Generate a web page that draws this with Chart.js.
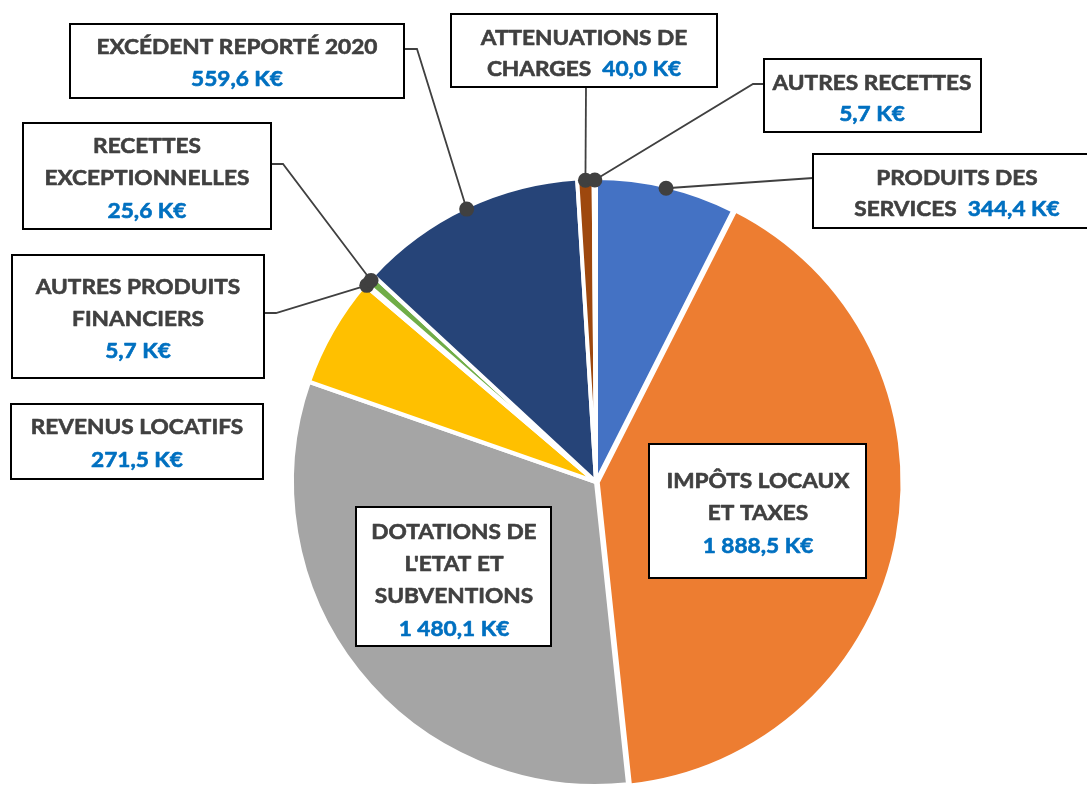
<!DOCTYPE html>
<html><head><meta charset="utf-8">
<script src="https://cdn.jsdelivr.net/npm/chart.js@4.4.1/dist/chart.umd.min.js"></script>
<style>html,body{margin:0;padding:0;background:#fff;overflow:hidden;width:1087px;height:785px}canvas{display:block}</style>
</head><body>
<canvas id="c" width="1087" height="800" style="width:1087px;height:800px"></canvas>
<script>
// ---- DATA ----
const categories = ['PRODUITS DES SERVICES', 'IMPÔTS LOCAUX ET TAXES', "DOTATIONS DE L'ETAT ET SUBVENTIONS", 'REVENUS LOCATIFS', 'AUTRES PRODUITS FINANCIERS', 'RECETTES EXCEPTIONNELLES', 'EXCÉDENT REPORTÉ 2020', 'ATTENUATIONS DE CHARGES', 'AUTRES RECETTES'];
const values = [344.4, 1888.5, 1480.1, 271.5, 5.7, 25.6, 559.6, 40.0, 5.7];
const nameLines = [
  ['PRODUITS DES', 'SERVICES'],
  ['IMPÔTS LOCAUX', 'ET TAXES'],
  ['DOTATIONS DE', "L'ETAT ET", 'SUBVENTIONS'],
  ['REVENUS LOCATIFS'],
  ['AUTRES PRODUITS', 'FINANCIERS'],
  ['RECETTES', 'EXCEPTIONNELLES'],
  ['EXCÉDENT REPORTÉ 2020'],
  ['ATTENUATIONS DE', 'CHARGES'],
  ['AUTRES RECETTES']
];
const valueInline = [true, false, false, false, false, false, false, true, false];
const unit = 'K€';

// ---- STYLE / LAYOUT ----
const colors = ['#4472C4', '#ED7D31', '#A5A5A5', '#FFC000', '#5B9BD5', '#70AD47', '#264478', '#9E480E', '#636363'];
const explode = [0, 7, 0, 0, 0, 0, 0, 0, 0];
const GRAY = '#404040', BLUE = '#0070C0';
const boxes = [
  {x:813, y:154, w:290, h:74, cx:957, ly:[177,208], path:[[813,178]]},
  {x:649, y:444, w:217, h:134, cx:758, ly:[480,512,545], path:null},
  {x:356, y:507, w:195, h:139, cx:454, ly:[531,563,595,628], path:null},
  {x:11, y:404, w:252, h:75, cx:137, ly:[426,459], path:null},
  {x:12, y:255, w:252, h:123, cx:138, ly:[286,318,350], path:[[264,313],[276,313]]},
  {x:23, y:123, w:248, h:106, cx:147, ly:[145,177,210], path:[[271,164],[283,164]]},
  {x:70, y:24, w:334, h:74, cx:237, ly:[46,78], path:[[404,49],[417,49]]},
  {x:451, y:14, w:266, h:73, cx:584, ly:[37,68], path:[[586,87]]},
  {x:764, y:59, w:217, h:73, cx:872, ly:[82,113], path:[[764,84],[753,84]]}
];
const FONT_PX = 21;
const FONT = 'bold ' + FONT_PX + 'px Lato, "Open Sans", sans-serif';
const CAP = 15;

function fmt(v) {
  const s = v.toFixed(1).split('.');
  const int = s[0].replace(/\B(?=(\d{3})+(?!\d))/g, ' ');
  return int + ',' + s[1] + ' ' + unit;
}

const ctx0 = document.getElementById('c').getContext('2d');
ctx0.font = FONT;
const SX = 281 / ctx0.measureText('EXCÉDENT REPORTÉ 2020').width;

function drawSegs(ctx, segs, cx, cy) {
  ctx.font = FONT;
  const total = segs.reduce((s, g) => s + ctx.measureText(g[0]).width, 0) * SX;
  let x = cx - total / 2;
  for (const [t, c] of segs) {
    const w = ctx.measureText(t).width;
    ctx.save();
    ctx.translate(x, cy + CAP / 2);
    ctx.scale(SX, 1);
    ctx.fillStyle = c;
    ctx.strokeStyle = c;
    ctx.lineWidth = 0.6;
    ctx.lineJoin = 'round';
    ctx.textAlign = 'left';
    ctx.textBaseline = 'alphabetic';
    ctx.fillText(t, 0, 0);
    ctx.strokeText(t, 0, 0);
    ctx.restore();
    x += w * SX;
  }
}

const labelPlugin = {
  id: 'labels',
  afterDatasetsDraw(chart) {
    const ctx = chart.ctx;
    const meta = chart.getDatasetMeta(0);
    const dots = meta.data.map((arc, i) => {
      const p = arc.getProps(['x', 'y', 'startAngle', 'endAngle', 'outerRadius'], true);
      const mid = (p.startAngle + p.endAngle) / 2;
      const r = p.outerRadius - 2;
      return [p.x + Math.cos(mid) * r, p.y + Math.sin(mid) * r];
    });
    ctx.save();
    ctx.strokeStyle = GRAY;
    ctx.lineWidth = 1.8;
    boxes.forEach((b, i) => {
      if (!b.path) return;
      ctx.beginPath();
      ctx.moveTo(b.path[0][0], b.path[0][1]);
      for (let k = 1; k < b.path.length; k++) ctx.lineTo(b.path[k][0], b.path[k][1]);
      ctx.lineTo(dots[i][0], dots[i][1]);
      ctx.stroke();
    });
    ctx.fillStyle = GRAY;
    boxes.forEach((b, i) => {
      if (!b.path) return;
      ctx.beginPath();
      ctx.arc(dots[i][0], dots[i][1], 7.5, 0, Math.PI * 2);
      ctx.fill();
    });
    boxes.forEach((b, i) => {
      ctx.fillStyle = '#fff';
      ctx.fillRect(b.x, b.y, b.w, b.h);
      ctx.strokeStyle = '#000';
      ctx.lineWidth = 2;
      ctx.strokeRect(b.x, b.y, b.w, b.h);
      const lines = nameLines[i].map(t => [[t, GRAY]]);
      if (valueInline[i]) {
        lines[lines.length - 1].push(['  ' + fmt(values[i]), BLUE]);
      } else {
        lines.push([[fmt(values[i]), BLUE]]);
      }
      lines.forEach((segs, k) => drawSegs(ctx, segs, b.cx, b.ly[k]));
    });
    ctx.restore();
  }
};

new Chart(ctx0, {
  type: 'pie',
  data: {
    labels: categories,
    datasets: [{
      data: values,
      backgroundColor: colors,
      borderColor: '#ffffff',
      borderWidth: 4,
      offset: explode,
      radius: 304,
      clip: false
    }]
  },
  options: {
    responsive: false,
    animation: false,
    events: [],
    layout: {padding: {left: 105, right: 0, top: 164, bottom: 0}},
    plugins: {legend: {display: false}, tooltip: {enabled: false}}
  },
  plugins: [labelPlugin]
});
</script>
</body></html>
